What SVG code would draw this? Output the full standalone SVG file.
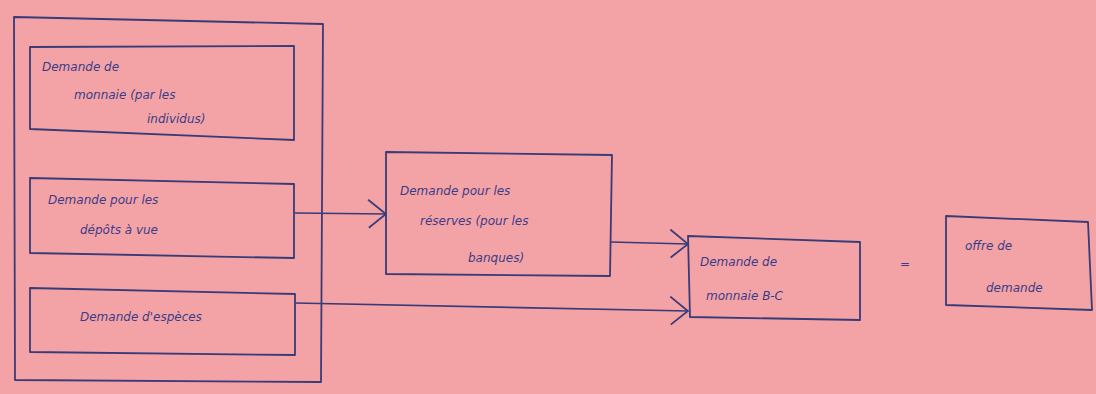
<svg xmlns="http://www.w3.org/2000/svg" width="1096" height="394" viewBox="0 0 1096 394">
  <defs>
    <style>
      .bg { fill: #F3A3A6; }
      .box { fill: none; stroke: #383B78; stroke-width: 1.8; stroke-linejoin: round; }
      .wire { fill: none; stroke: #383B78; stroke-width: 1.7; }
      .ink { font-family: "DejaVu Sans", "Liberation Sans", sans-serif; font-style: italic; font-size: 12px; fill: #3B3C88; }
    </style>
    <marker id="open-arrow" viewBox="0 0 20 30" refX="19" refY="15" markerWidth="20" markerHeight="30" markerUnits="userSpaceOnUse" orient="auto">
      <path d="M1 1 L19 15 L2 29" fill="none" stroke="#383B78" stroke-width="1.8"/>
    </marker>
  </defs>

  <rect class="bg" x="0" y="0" width="1096" height="394"/>

  <!-- outer frame holding the three household demands -->
  <g id="frame">
    <path class="box" d="M14 17 L323 24 L321 382 L15 380 Z"/>
  </g>

  <g id="node-individus">
    <path class="box" d="M30 47 L294 46 L294 140 L30 129 Z"/>
    <text class="ink" x="42" y="71">Demande de</text>
    <text class="ink" x="74" y="99">monnaie (par les</text>
    <text class="ink" x="147" y="123">individus)</text>
  </g>

  <g id="node-depots">
    <path class="box" d="M30 178 L294 184 L294 258 L30 253 Z"/>
    <text class="ink" x="48" y="204">Demande pour les</text>
    <text class="ink" x="80" y="234">dépôts à vue</text>
  </g>

  <g id="node-especes">
    <path class="box" d="M30 288 L295 294 L295 355 L30 352 Z"/>
    <text class="ink" x="80" y="321">Demande d'espèces</text>
  </g>

  <g id="node-reserves">
    <path class="box" d="M386 152 L612 155 L610 276 L386 274 Z"/>
    <text class="ink" x="400" y="195">Demande pour les</text>
    <text class="ink" x="420" y="225">réserves (pour les</text>
    <text class="ink" x="468" y="262">banques)</text>
  </g>

  <g id="node-bc">
    <path class="box" d="M688 236 L860 242 L860 320 L690 317 Z"/>
    <text class="ink" x="700" y="266">Demande de</text>
    <text class="ink" x="706" y="300">monnaie B-C</text>
  </g>

  <g id="equals">
    <text class="ink" x="900" y="268">=</text>
  </g>

  <g id="node-offre">
    <path class="box" d="M946 216 L1088 222 L1092 310 L946 305 Z"/>
    <text class="ink" x="965" y="250">offre de</text>
    <text class="ink" x="986" y="292">demande</text>
  </g>

  <g id="connectors">
    <path class="wire" d="M295 213 L386 214" marker-end="url(#open-arrow)"/>
    <path class="wire" d="M611 242 L688 244" marker-end="url(#open-arrow)"/>
    <path class="wire" d="M295 303 L688 311" marker-end="url(#open-arrow)"/>
  </g>
</svg>
